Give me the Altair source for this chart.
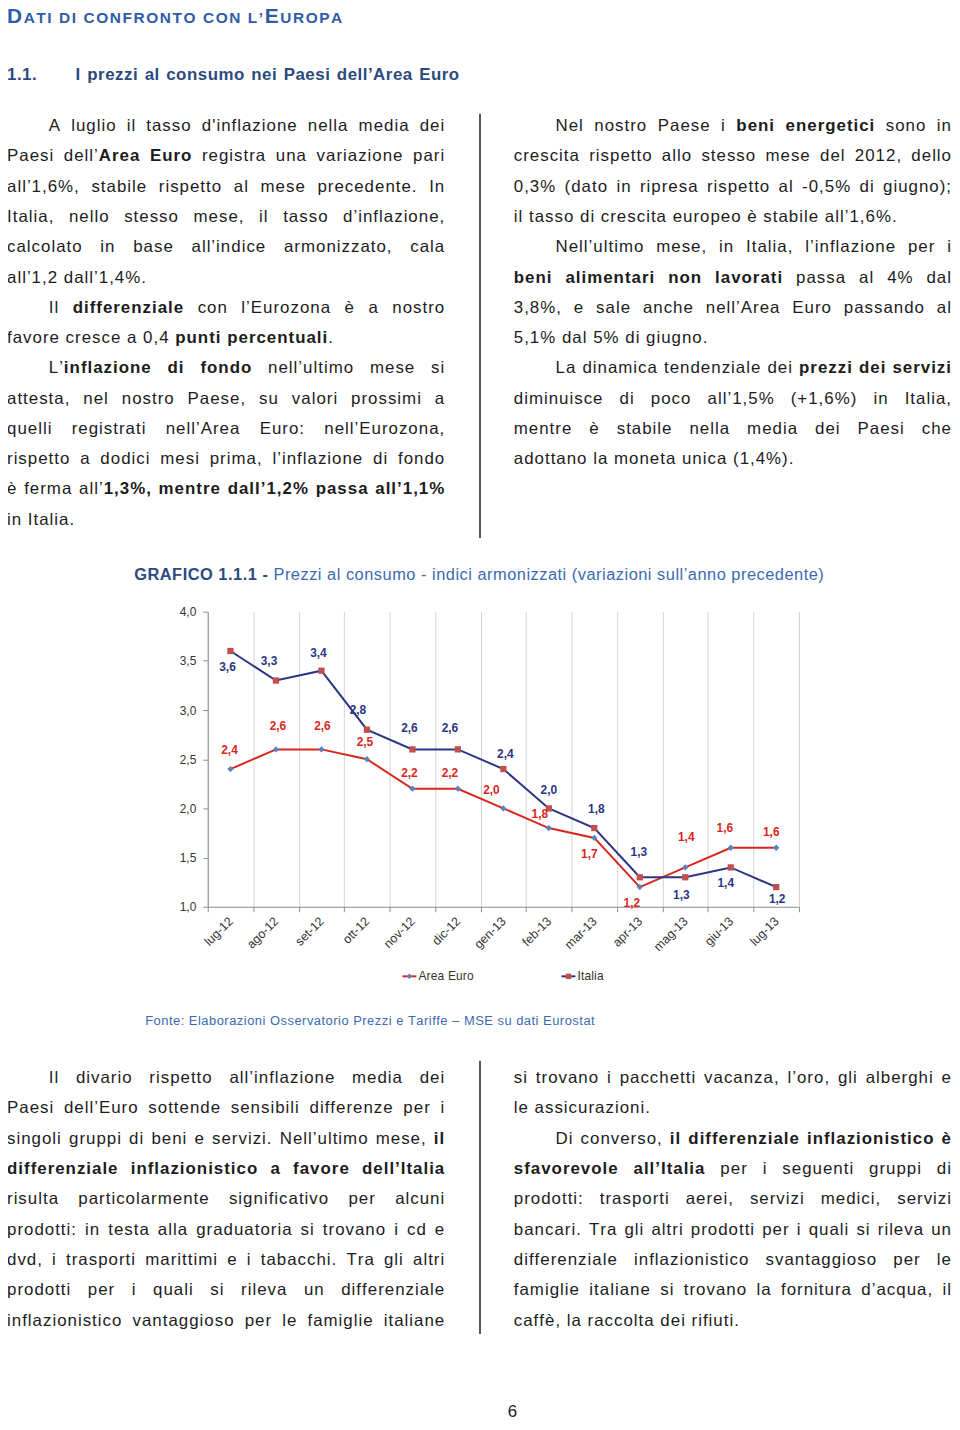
import altair as alt
import pandas as pd

# ---------------- chart data ----------------
months = ["lug-12", "ago-12", "set-12", "ott-12", "nov-12", "dic-12", "gen-13",
          "feb-13", "mar-13", "apr-13", "mag-13", "giu-13", "lug-13"]
area_euro = [2.4, 2.6, 2.6, 2.5, 2.2, 2.2, 2.0, 1.8, 1.7, 1.2, 1.4, 1.6, 1.6]
italia = [3.6, 3.3, 3.4, 2.8, 2.6, 2.6, 2.4, 2.0, 1.8, 1.3, 1.3, 1.4, 1.2]
y_ticks = [1.0, 1.5, 2.0, 2.5, 3.0, 3.5, 4.0]
series_names = ["Area Euro", "Italia"]

# data-label offsets from their point (pixels)
area_dx = [-1, 2, 1, -2, -3, -8, -12, -9, -5, -8, 1, -6, -5]
area_dy = [-19, -24, -24, -17, -16, -16, -18, -14, 16, 16, -31, -20, -16]
ita_dx = [-3, -7, -3, -9, -3, -8, 2, 0, 2, -1, -4, -5, 1]
ita_dy = [16, -20, -18, -20, -21, -21, -15, -19, -19, -25, 18, 16, 12]

# ---------------- geometry / style ----------------
PX0, PY0 = 209, 611          # page position of plot origin
PLOT_W, PLOT_H = 595, 297
RED, NAVY = "#d9261c", "#2b3584"
DIAMOND, SQUARE = "#5b82c0", "#c0504d"
BODY = "#1c1c1c"
TITLE_C, HEAD_C, LIGHT_C = "#2f5ca6", "#2b4a7e", "#3b6ab2"
FONT = "Liberation Sans"

W_REG = {' ': 278, '%': 889, "'": 191, '(': 333, ')': 333, '+': 584, ',': 278, '-': 333,
         '.': 278, ':': 278, ';': 278, '’': 222, '–': 556, 'è': 556, 'é': 556, 'à': 556,
         'ò': 556, 'ù': 556, 'ì': 278,
         'A': 667, 'B': 667, 'C': 722, 'D': 722, 'E': 667, 'F': 611, 'G': 778, 'H': 722,
         'I': 278, 'J': 500, 'K': 667, 'L': 556, 'M': 833, 'N': 722, 'O': 778, 'P': 667,
         'Q': 778, 'R': 722, 'S': 667, 'T': 611, 'U': 722, 'V': 667, 'W': 944, 'X': 667,
         'Y': 667, 'Z': 611,
         'a': 556, 'b': 556, 'c': 500, 'd': 556, 'e': 556, 'f': 278, 'g': 556, 'h': 556,
         'i': 222, 'j': 222, 'k': 500, 'l': 222, 'm': 833, 'n': 556, 'o': 556, 'p': 556,
         'q': 556, 'r': 333, 's': 500, 't': 278, 'u': 556, 'v': 500, 'w': 722, 'x': 500,
         'y': 500, 'z': 500}
W_BOLD = {' ': 278, '%': 889, "'": 238, '(': 333, ')': 333, '+': 584, ',': 278, '-': 333,
          '.': 278, ':': 333, ';': 333, '’': 278, '–': 556, 'è': 556, 'é': 556, 'à': 556,
          'A': 722, 'B': 722, 'C': 722, 'D': 722, 'E': 667, 'F': 611, 'G': 778, 'H': 722,
          'I': 278, 'J': 556, 'K': 722, 'L': 611, 'M': 833, 'N': 722, 'O': 778, 'P': 667,
          'Q': 778, 'R': 722, 'S': 667, 'T': 611, 'U': 722, 'V': 667, 'W': 944, 'X': 667,
          'Y': 667, 'Z': 611,
          'a': 556, 'b': 611, 'c': 556, 'd': 611, 'e': 556, 'f': 333, 'g': 611, 'h': 611,
          'i': 278, 'j': 278, 'k': 556, 'l': 278, 'm': 889, 'n': 611, 'o': 611, 'p': 611,
          'q': 611, 'r': 389, 's': 556, 't': 333, 'u': 611, 'v': 556, 'w': 778, 'x': 556,
          'y': 556, 'z': 500}


def cw(c, bold):
    if c.isdigit():
        return 556
    return (W_BOLD if bold else W_REG).get(c, 556)


rows = []


def place(segs, x0, base, track, x1=None):
    items = []
    for text, bold, size, color in segs:
        for c in text:
            items.append((c, bold, size, color, cw(c, bold) * size / 1000.0 + track))
    natural = sum(it[4] for it in items) - track
    nsp = sum(1 for it in items if it[0] == ' ')
    per = (x1 - x0 - natural) / nsp if (x1 is not None and nsp) else 0.0
    x = x0
    for c, bold, size, color, adv in items:
        if c != ' ':
            rows.append({"x": x - PX0, "y": base - PY0, "ch": c, "size": size,
                         "color": color, "bold": bold})
        x += adv + (per if c == ' ' else 0.0)


def body_line(text, x0, x1, base, justify):
    parts = text.split('*')
    segs = [(p, i % 2 == 1, 17, BODY) for i, p in enumerate(parts) if p]
    place(segs, x0, base, 1.0, x1 if justify else None)


# ---------------- page text ----------------
top_left = [
    ("A luglio il tasso d'inflazione nella media dei", True, True),
    ("Paesi dell’*Area Euro* registra una variazione pari", False, True),
    ("all’1,6%, stabile rispetto al mese precedente. In", False, True),
    ("Italia, nello stesso mese, il tasso d’inflazione,", False, True),
    ("calcolato in base all’indice armonizzato, cala", False, True),
    ("all’1,2 dall’1,4%.", False, False),
    ("Il *differenziale* con l’Eurozona è a nostro", True, True),
    ("favore cresce a 0,4 *punti percentuali*.", False, False),
    ("L’*inflazione di fondo* nell’ultimo mese si", True, True),
    ("attesta, nel nostro Paese, su valori prossimi a", False, True),
    ("quelli registrati nell’Area Euro: nell’Eurozona,", False, True),
    ("rispetto a dodici mesi prima, l’inflazione di fondo", False, True),
    ("è ferma all’*1,3%, mentre dall’1,2% passa all’1,1%*", False, True),
    ("in Italia.", False, False),
]
top_right = [
    ("Nel nostro Paese i *beni energetici* sono in", True, True),
    ("crescita rispetto allo stesso mese del 2012, dello", False, True),
    ("0,3% (dato in ripresa rispetto al -0,5% di giugno);", False, True),
    ("il tasso di crescita europeo è stabile all’1,6%.", False, False),
    ("Nell’ultimo mese, in Italia, l’inflazione per i", True, True),
    ("*beni alimentari non lavorati* passa al 4% dal", False, True),
    ("3,8%, e sale anche nell’Area Euro passando al", False, True),
    ("5,1% dal 5% di giugno.", False, False),
    ("La dinamica tendenziale dei *prezzi dei servizi*", True, True),
    ("diminuisce di poco all’1,5% (+1,6%) in Italia,", False, True),
    ("mentre è stabile nella media dei Paesi che", False, True),
    ("adottano la moneta unica (1,4%).", False, False),
]
bottom_left = [
    ("Il divario rispetto all’inflazione media dei", True, True),
    ("Paesi dell’Euro sottende sensibili differenze per i", False, True),
    ("singoli gruppi di beni e servizi. Nell’ultimo mese, *il*", False, True),
    ("*differenziale inflazionistico a favore dell’Italia*", False, True),
    ("risulta particolarmente significativo per alcuni", False, True),
    ("prodotti: in testa alla graduatoria si trovano i cd e", False, True),
    ("dvd, i trasporti marittimi e i tabacchi. Tra gli altri", False, True),
    ("prodotti per i quali si rileva un differenziale", False, True),
    ("inflazionistico vantaggioso per le famiglie italiane", False, True),
]
bottom_right = [
    ("si trovano i pacchetti vacanza, l’oro, gli alberghi e", False, True),
    ("le assicurazioni.", False, False),
    ("Di converso, *il differenziale inflazionistico è*", True, True),
    ("*sfavorevole all’Italia* per i seguenti gruppi di", False, True),
    ("prodotti: trasporti aerei, servizi medici, servizi", False, True),
    ("bancari. Tra gli altri prodotti per i quali si rileva un", False, True),
    ("differenziale inflazionistico svantaggioso per le", False, True),
    ("famiglie italiane si trovano la fornitura d’acqua, il", False, True),
    ("caffè, la raccolta dei rifiuti.", False, False),
]


def column(lines, left, right, indent, first_base, step):
    for k, (text, ind, just) in enumerate(lines):
        body_line(text, indent if ind else left, right, first_base + step * k, just)


column(top_left, 7, 447, 49, 127.5, 30.46)
column(top_right, 517, 957, 559, 127.5, 30.46)
column(bottom_left, 7, 447, 49, 1085.5, 30.5)
column(bottom_right, 517, 957, 559, 1085.5, 30.5)

place([("D", True, 21, TITLE_C), ("ATI DI CONFRONTO CON L’", True, 15.5, TITLE_C),
       ("E", True, 21, TITLE_C), ("UROPA", True, 15.5, TITLE_C)], 7, 19, 1.6)
place([("1.1.", True, 17, HEAD_C)], 7, 76, 0.5)
place([("I prezzi al consumo nei Paesi dell’Area Euro", True, 17, HEAD_C)], 76, 76, 0.5, 462)
place([("GRAFICO 1.1.1 -", True, 16.5, HEAD_C),
       (" Prezzi al consumo - indici armonizzati (variazioni sull’anno precedente)", False, 16.5, LIGHT_C)],
      135, 579, 0.5, 829)
place([("Fonte: Elaborazioni Osservatorio Prezzi e Tariffe – MSE su dati Eurostat", False, 13, LIGHT_C)],
      146, 1026.5, 0.5)
place([("Area Euro", False, 12, "#333333")], 421, 982, 0.2)
place([("Italia", False, 12, "#333333")], 581, 982, 0.2)
place([("6", False, 17, BODY)], 511, 1421, 0)

txt = pd.DataFrame(rows)
txt_norm = txt[~txt["bold"]].drop(columns="bold")
txt_bold = txt[txt["bold"]].drop(columns="bold")


def text_layer(df, weight):
    return alt.Chart(df).mark_text(font=FONT, fontWeight=weight, align="left",
                                   baseline="alphabetic").encode(
        x=alt.X("x:Q", scale=None, axis=None),
        y=alt.Y("y:Q", scale=None, axis=None),
        text="ch:N",
        size=alt.Size("size:Q", scale=None, legend=None),
        color=alt.Color("color:N", scale=None, legend=None),
    )


seps = pd.DataFrame({"x": [483 - PX0, 483 - PX0], "y": [110 - PY0, 1063 - PY0],
                     "y2": [537 - PY0, 1338 - PY0]})
sep_layer = alt.Chart(seps).mark_rule(color="#222222", strokeWidth=1.5).encode(
    x=alt.X("x:Q", scale=None, axis=None),
    y=alt.Y("y:Q", scale=None, axis=None), y2="y2:Q")

leg_lines = pd.DataFrame({"x": [405 - PX0, 565 - PX0], "x2": [419 - PX0, 579 - PX0],
                          "y": [978 - PY0, 978 - PY0], "color": [RED, NAVY]})
leg_line_layer = alt.Chart(leg_lines).mark_rule(strokeWidth=2).encode(
    x=alt.X("x:Q", scale=None, axis=None), x2="x2:Q",
    y=alt.Y("y:Q", scale=None, axis=None),
    color=alt.Color("color:N", scale=None, legend=None))
leg_pts = pd.DataFrame({"x": [412 - PX0, 572 - PX0], "y": [978 - PY0, 978 - PY0],
                        "shape": ["diamond", "square"], "color": [DIAMOND, SQUARE]})
leg_pt_layer = alt.Chart(leg_pts).mark_point(filled=True, size=30, opacity=1).encode(
    x=alt.X("x:Q", scale=None, axis=None),
    y=alt.Y("y:Q", scale=None, axis=None),
    shape=alt.Shape("shape:N", scale=None, legend=None),
    color=alt.Color("color:N", scale=None, legend=None))

# ---------------- line chart ----------------
long_rows = []
for i, m in enumerate(months):
    long_rows.append({"mese": m, "serie": "Area Euro", "valore": area_euro[i]})
    long_rows.append({"mese": m, "serie": "Italia", "valore": italia[i]})
df = pd.DataFrame(long_rows)

axis_font = dict(labelFont=FONT, labelColor="#333333",
                 domainColor="#8c8c8c", tickColor="#8c8c8c", tickSize=5, title=None)
X = alt.X("mese:N", sort=months,
          scale=alt.Scale(type="band", domain=months, paddingInner=0, paddingOuter=0),
          axis=alt.Axis(tickBand="extent", grid=True, gridColor="#d4d4d4", gridWidth=1,
                        labelAngle=315, labelAlign="right", labelBaseline="middle",
                        labelPadding=7, labelFontSize=12.5, **axis_font))
Y = alt.Y("valore:Q", scale=alt.Scale(domain=[1, 4], nice=False, zero=False),
          axis=alt.Axis(values=y_ticks, grid=False, labelPadding=7, labelFontSize=12,
                        labelExpr="replace(format(datum.value, '.1f'), '.', ',')",
                        **axis_font))

base = alt.Chart(df).encode(x=X, y=Y)
ae = base.transform_filter(alt.datum.serie == "Area Euro")
it = base.transform_filter(alt.datum.serie == "Italia")
main = alt.layer(
    ae.mark_line(color=RED, strokeWidth=2),
    it.mark_line(color=NAVY, strokeWidth=2),
    ae.mark_point(shape="diamond", filled=True, color=DIAMOND, size=40, opacity=1),
    it.mark_point(shape="square", filled=True, color=SQUARE, size=40, opacity=1),
)

px_per_cat = PLOT_W / len(months)
px_per_unit = PLOT_H / 3.0
lab_rows = []
for i in range(len(months)):
    lab_rows.append({"lx": i + area_dx[i] / px_per_cat, "ly": area_euro[i] - area_dy[i] / px_per_unit,
                     "txt": f"{area_euro[i]:.1f}".replace(".", ","), "serie": "Area Euro"})
    lab_rows.append({"lx": i + ita_dx[i] / px_per_cat, "ly": italia[i] - ita_dy[i] / px_per_unit,
                     "txt": f"{italia[i]:.1f}".replace(".", ","), "serie": "Italia"})
labels = alt.Chart(pd.DataFrame(lab_rows)).mark_text(
    font=FONT, fontSize=12, fontWeight="bold", align="center", baseline="middle").encode(
    x=alt.X("lx:Q", scale=alt.Scale(domain=[-0.5, len(months) - 0.5], nice=False, zero=False), axis=None),
    y=alt.Y("ly:Q", scale=alt.Scale(domain=[1, 4], nice=False, zero=False), axis=None),
    text="txt:N",
    color=alt.Color("serie:N", scale=alt.Scale(domain=series_names, range=[RED, NAVY]), legend=None),
)

TOTAL_W, TOTAL_H = 950, 1414
chart = alt.layer(
    main, labels, sep_layer, text_layer(txt_norm, "normal"), text_layer(txt_bold, "bold"),
    leg_line_layer, leg_pt_layer,
).resolve_scale(x="independent", y="independent").properties(
    width=PLOT_W, height=PLOT_H,
    autosize=alt.AutoSizeParams(type="none"),
    padding={"left": PX0 - 8, "top": PY0 - 8,
             "right": TOTAL_W - (PX0 - 8) - PLOT_W,
             "bottom": TOTAL_H - (PY0 - 8) - PLOT_H},
    background="white",
).configure_view(stroke=None)

chart.save("out.html", embed_options={"renderer": "svg", "actions": False})
